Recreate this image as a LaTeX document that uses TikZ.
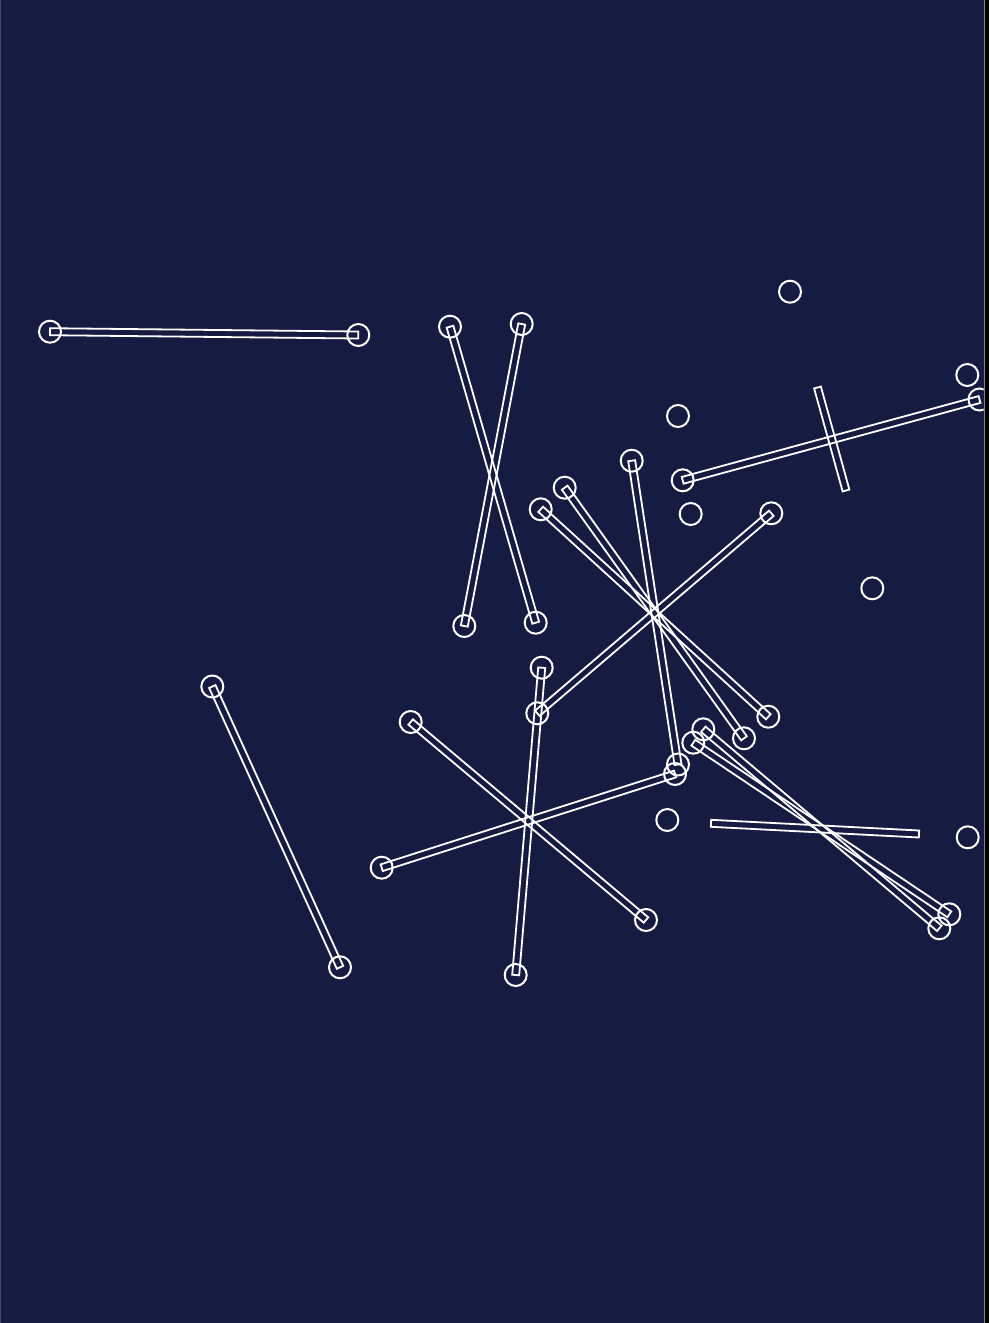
\documentclass[tikz,border=0pt]{standalone}
\usetikzlibrary{calc}
\definecolor{navy}{RGB}{22,27,66}
\definecolor{edgegray}{RGB}{130,132,140}
\definecolor{edgeleft}{RGB}{70,74,100}
\tikzset{
  pin/.style={circle,draw=white,line width=2pt,minimum size=22pt,inner sep=0pt,outer sep=0pt},
  rod/.style={draw=white,line width=1.8pt,line join=miter}
}
\newcommand{\rodbetween}[2]{\draw[rod] ($(#1.center)!3.5pt!90:(#2.center)$) -- ($(#2.center)!3.5pt!-90:(#1.center)$) -- ($(#2.center)!3.5pt!90:(#1.center)$) -- ($(#1.center)!3.5pt!-90:(#2.center)$) -- cycle;}
\begin{document}
\begin{tikzpicture}[x=1pt,y=-1pt]
\useasboundingbox (0,0) rectangle (989,1323);
\fill[black] (0,0) rectangle (989,1323);
\fill[navy] (0,0) rectangle (983.5,1323);
\draw[edgegray,line width=1pt] (984,0) -- (984,1323);
\draw[edgeleft,line width=1pt] (0.5,0) -- (0.5,1323);
\begin{scope}
\clip (0,0) rectangle (983.5,1323);
% bar ends
\node[pin] (a1) at (50,331.7) {};
\node[pin] (a2) at (358.3,335) {};
\node[pin] (b1) at (450,326.7) {};
\node[pin] (b2) at (535.7,622.7) {};
\node[pin] (c1) at (521.7,324) {};
\node[pin] (c2) at (464.3,626) {};
\node[pin] (d1) at (682.7,480.3) {};
\node[pin] (d2) at (979.5,399.5) {};
\coordinate (e1) at (817.5,387.5);
\coordinate (e2) at (846,490.5);
\node[pin] (f1) at (540.7,509.3) {};
\node[pin] (f2) at (768.3,716.7) {};
\node[pin] (g1) at (564.7,487.7) {};
\node[pin] (g2) at (744,738.3) {};
\node[pin] (h1) at (631.7,460.7) {};
\node[pin] (h2) at (678,764.5) {};
\node[pin] (i1) at (771.3,513.3) {};
\node[pin] (i2) at (537.3,713.3) {};
\node[pin] (j1) at (541.7,667.7) {};
\node[pin] (j2) at (515.7,975) {};
\node[pin] (k1) at (410.7,722) {};
\node[pin] (k2) at (646,920) {};
\node[pin] (l1) at (381.7,867.7) {};
\node[pin] (l2) at (675,774) {};
\node[pin] (m1) at (212.3,686.5) {};
\node[pin] (m2) at (340,967.3) {};
\node[pin] (n1) at (703.3,729.3) {};
\node[pin] (n2) at (939.3,928.3) {};
\node[pin] (o1) at (693.3,742.7) {};
\node[pin] (o2) at (949.3,914.3) {};
\coordinate (q1) at (711,823.3);
\coordinate (q2) at (919,834);
% standalone circles
\node[pin] (s1) at (790,291.7) {};
\node[pin] (s2) at (967.3,375) {};
\node[pin] (s3) at (678,416) {};
\node[pin] (s4) at (690.7,514) {};
\node[pin] (s5) at (872.3,588.3) {};
\node[pin] (s6) at (667.3,820) {};
\node[pin] (s7) at (967.7,837.3) {};
% bars
\rodbetween{a1}{a2}
\rodbetween{b1}{b2}
\rodbetween{c1}{c2}
\rodbetween{d1}{d2}
\rodbetween{e1}{e2}
\rodbetween{f1}{f2}
\rodbetween{g1}{g2}
\rodbetween{h1}{h2}
\rodbetween{i1}{i2}
\rodbetween{j1}{j2}
\rodbetween{k1}{k2}
\rodbetween{l1}{l2}
\rodbetween{m1}{m2}
\rodbetween{n1}{n2}
\rodbetween{o1}{o2}
\rodbetween{q1}{q2}
\end{scope}
\end{tikzpicture}
\end{document}
